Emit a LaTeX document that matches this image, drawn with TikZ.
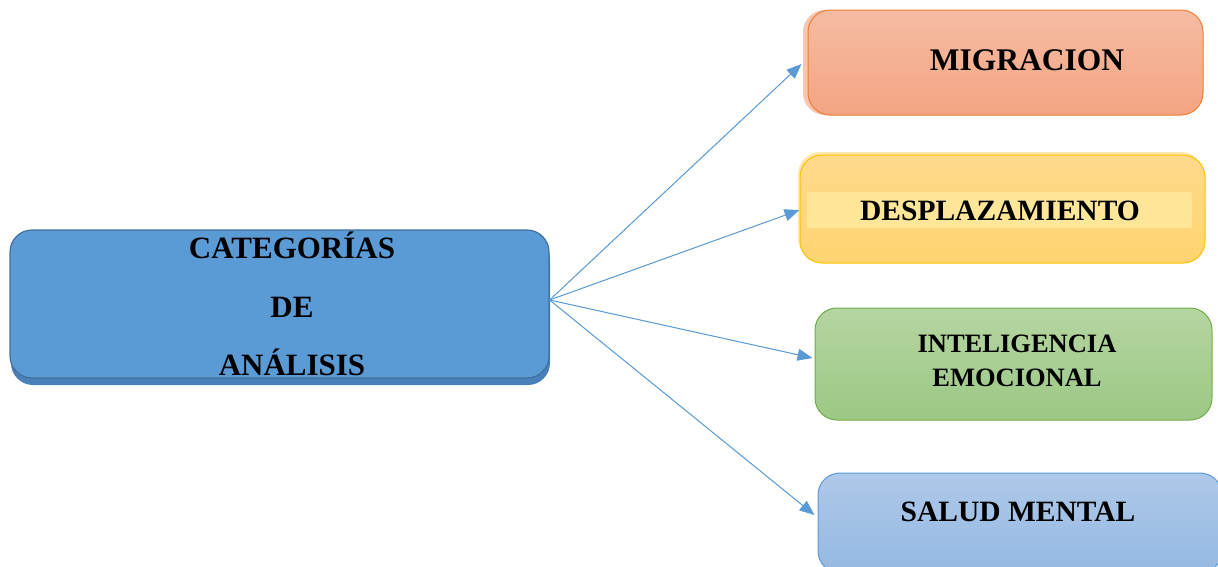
\documentclass[tikz,border=0pt]{standalone}
\usepackage{fontspec}
\setmainfont{Liberation Serif}
\usetikzlibrary{shadows,arrows.meta}
\definecolor{cblue}{HTML}{5B9BD5}
\definecolor{cblueD}{HTML}{41719C}
\definecolor{cshad}{HTML}{4A80BA}
\definecolor{orT}{HTML}{F5BCA3}
\definecolor{orB}{HTML}{F4A482}
\definecolor{orD}{HTML}{ED7D31}
\definecolor{orS}{HTML}{F7C6B0}
\definecolor{yeT}{HTML}{FFDA8C}
\definecolor{yeB}{HTML}{FFD470}
\definecolor{yeD}{HTML}{FFC000}
\definecolor{yeS}{HTML}{FFE8B0}
\definecolor{yeBand}{HTML}{FFE699}
\definecolor{grT}{HTML}{B5D5A2}
\definecolor{grB}{HTML}{9CC884}
\definecolor{grD}{HTML}{70AD47}
\definecolor{blT}{HTML}{AEC9E9}
\definecolor{blB}{HTML}{95B8E2}
\begin{document}
\begin{tikzpicture}[x=1pt,y=-1pt,
  box/.style={draw, rounded corners=22pt, line width=1.2pt, inner sep=0pt},
  lbl/.style={font=\bfseries, align=center, inner sep=0pt, text=black},
  conn/.style={draw=cblue, line width=1pt, -{Triangle[length=15pt,width=12pt]}, fill=cblue}]
\useasboundingbox (0,0) rectangle (1218,566);
\clip (0,0) rectangle (1218,566);
% central box
\node[box, draw=cblueD, fill=cblue, minimum width=539pt, minimum height=148pt,
  drop shadow={shadow xshift=1pt, shadow yshift=-7pt, fill=cshad, opacity=1}]
  (c) at (279.5,304) {};
\node[lbl, font=\bfseries\fontsize{31}{58.5}\selectfont] (ct) at (292,304) {CATEGOR\'IAS\\DE\\AN\'ALISIS};
% migracion
\node[box, draw=orD, line width=1pt, top color=orT, bottom color=orB, minimum width=395pt, minimum height=105pt,
  drop shadow={shadow xshift=-5pt, shadow yshift=0pt, fill=orS, opacity=1}]
  (m) at (1005.5,62.5) {};
\node[lbl, font=\bfseries\fontsize{31.5}{36}\selectfont] (mt) at (1027,60) {MIGRACION};
% desplazamiento
\node[box, draw=yeD, line width=1pt, top color=yeT, bottom color=yeB, minimum width=405pt, minimum height=108pt,
  drop shadow={shadow xshift=-2pt, shadow yshift=3pt, fill=yeS, opacity=1}]
  (d) at (1002.5,209) {};
\node[fill=yeBand, minimum width=385pt, minimum height=36pt, inner sep=0pt] (band) at (999.5,210) {};
\node[lbl, font=\bfseries\fontsize{29.5}{34}\selectfont] (dt) at (1000,211) {DESPLAZAMIENTO};
% inteligencia
\node[box, draw=grD, line width=1pt, top color=grT, bottom color=grB, minimum width=397pt, minimum height=112pt]
  (i) at (1013.5,364) {};
\node[lbl, font=\bfseries\fontsize{26.5}{34}\selectfont] (it) at (1017,361) {INTELIGENCIA\\EMOCIONAL};
% salud mental
\node[box, draw=cblue, line width=1pt, top color=blT, bottom color=blB, minimum width=404pt, minimum height=100pt]
  (s) at (1020,523) {};
\node[lbl, font=\bfseries\fontsize{29.5}{34}\selectfont] (st) at (1018,512) {SALUD MENTAL};
% connectors
\coordinate (src) at ([yshift=4pt]c.east);
\draw[conn] (src) -- ([xshift=-6pt,yshift=-1.5pt]m.west);
\draw[conn] (src) -- ([yshift=-1pt]d.west);
\draw[conn] (src) -- ([xshift=-2pt,yshift=6pt]i.west);
\draw[conn] (src) -- ([xshift=-3pt,yshift=8pt]s.west);
\end{tikzpicture}
\end{document}
